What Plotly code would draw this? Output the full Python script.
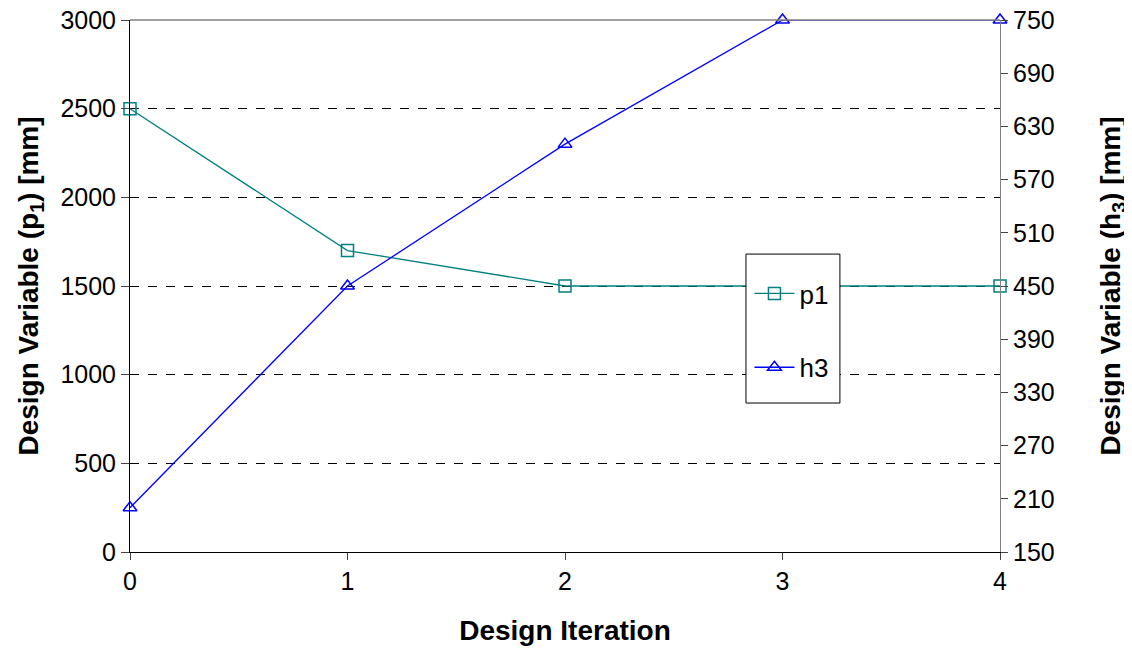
import plotly.graph_objects as go

# design iteration history
iterations = [0, 1, 2, 3, 4]
p1 = [2500, 1700, 1500, 1500, 1500]
h3 = [200, 450, 610, 750, 750]

fig = go.Figure()
fig.add_trace(go.Scatter(x=iterations, y=p1, name="p1", mode="lines+markers", legendgroup="a",
                         line=dict(color="#008080", width=1.3), cliponaxis=False,
                         marker=dict(symbol="square-open", size=12, color="#008080", line=dict(width=1.5))))
fig.add_trace(go.Scatter(x=iterations, y=h3, name="h3", mode="lines+markers", yaxis="y2", legendgroup="b",
                         line=dict(color="#0000ff", width=1.3), cliponaxis=False,
                         marker=dict(symbol="triangle-up-open", size=12, color="#0000ff", line=dict(width=1.5))))

fig.update_layout(
    width=1132, height=650,
    margin=dict(l=122, r=140, t=12, b=106),
    plot_bgcolor="white", paper_bgcolor="white",
    font=dict(family="Liberation Sans, Arial", size=25, color="black"),
    xaxis=dict(range=[0, 4], tickvals=iterations, showgrid=False, zeroline=False,
               showline=True, linecolor="black", ticks="outside", ticklen=7,
               tickfont=dict(size=25), automargin=False,
               title=dict(text="<b>Design Iteration</b>", font=dict(size=28), standoff=26)),
    yaxis=dict(range=[0, 3000], tickvals=[0, 500, 1000, 1500, 2000, 2500, 3000],
               showgrid=True, gridcolor="black", griddash="dash",
               gridwidth=0.8, zeroline=False, showline=True, linecolor="black",
               ticks="outside", ticklen=8, tickfont=dict(size=25), automargin=False,
               ticklabeloverflow="allow",
               title=dict(text="<b>Design Variable (p<sub>1</sub>) [mm]</b>", font=dict(size=28), standoff=13)),
    yaxis2=dict(range=[150, 750], tickvals=list(range(150, 751, 60)), overlaying="y", side="right",
                showgrid=False, zeroline=False, showline=True, linecolor="gray", ticks="outside", ticklen=7,
                tickfont=dict(size=25), automargin=False, ticklabeloverflow="allow",
                title=dict(text="<b>Design Variable (h<sub>3</sub>) [mm]</b>", font=dict(size=28), standoff=46)),
    legend=dict(x=0.712, y=0.53, xanchor="left", yanchor="top", bgcolor="rgba(0,0,0,0)",
                borderwidth=0, font=dict(size=26),
                tracegroupgap=37, itemwidth=40),
    showlegend=True,
)
# top border of plot area
fig.add_shape(type="line", xref="paper", yref="paper", x0=0, x1=1, y0=1, y1=1,
              line=dict(color="gray", width=1.5))
# legend frame
fig.add_shape(type="rect", xref="paper", yref="paper", x0=0.708, x1=0.816, y0=0.280, y1=0.560,
              fillcolor="white", line=dict(color="black", width=1), layer="above")

fig.write_html("out.html")
